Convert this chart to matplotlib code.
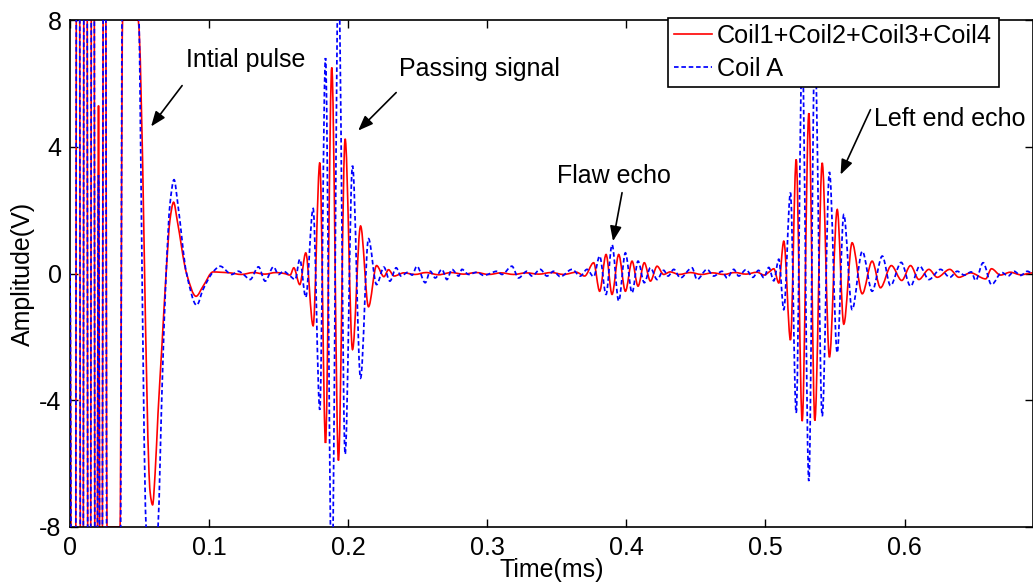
import numpy as np
import matplotlib
matplotlib.use("Agg")
import matplotlib.pyplot as plt
from matplotlib.path import Path
from matplotlib.patches import PathPatch
from matplotlib.lines import Line2D

plt.rcParams['font.family'] = ['Liberation Sans', 'DejaVu Sans']
plt.rcParams['axes.unicode_minus'] = False
plt.rcParams['lines.scale_dashes'] = False

# ---------------- data (time in ms, amplitude in V) ----------------
# Initial pulse (clipped excitation)
pulse_red_t = [0.0000, 0.0011, 0.0040, 0.0047, 0.0068, 0.0076, 0.0094, 0.0101, 0.0122, 0.0129,
               0.0147, 0.0155, 0.0173, 0.0180, 0.0194, 0.0205, 0.0216, 0.0230, 0.0241, 0.0255,
               0.0266, 0.0360, 0.0378, 0.0489, 0.0576, 0.0594, 0.0612, 0.0633, 0.0662, 0.0691,
               0.0719, 0.0745, 0.0770, 0.0838, 0.0906, 0.0957, 0.1029]
pulse_red_v = [0.0, -12, -12, 12, 12, -12, -12, 12, 12, -12,
               -12, 12, 12, -12, -12, 5.3, -12, -12, 12, 12,
               -8, -8, 8, 8, -6.9, -7.3, -6.3, -4.4, -2.2, 0.0,
               1.7, 2.25, 1.7, 0.0, -0.72, -0.40, 0.05]
pulse_blue_t = [0.0000, 0.0011, 0.0040, 0.0047, 0.0068, 0.0076, 0.0094, 0.0101, 0.0122, 0.0129,
                0.0147, 0.0155, 0.0173, 0.0180, 0.0194, 0.0205, 0.0216, 0.0230, 0.0241, 0.0255,
                0.0266, 0.0360, 0.0378, 0.0475, 0.0547, 0.0590, 0.0633, 0.0662, 0.0691, 0.0719,
                0.0748, 0.0775, 0.0838, 0.0911, 0.0957, 0.1029]
pulse_blue_v = [0.0, -12, -12, 12, 12, -12, -12, 12, 12, -12,
                -12, 12, 12, -12, -12, 3.1, -12, -12, 12, 12,
                -12, -12, 12, 12, -8, -10.5, -8, -3.6, 0.0, 2.2,
                2.96, 2.2, 0.0, -1.0, -0.5, 0.05]

# Passing signal
pass_t = [0.1652, 0.1695, 0.1748, 0.1796, 0.1837, 0.1882, 0.1930, 0.1978, 0.2031, 0.2089,
          0.2146, 0.2204, 0.2257]
pass_red = [-0.35, 0.65, -1.65, 3.5, -5.35, 6.5, -5.9, 4.25, -2.4, 1.5, -1.05, 0.25, -0.1]
pass_blue = [0.45, -0.75, 2.05, -4.3, 6.8, -10.0, 9.5, -5.7, 3.4, -3.3, 1.1, -0.35, 0.2]

# Flaw echo
flaw_t = [0.3765, 0.3808, 0.3854, 0.3897, 0.3945, 0.3993, 0.4041, 0.4084, 0.4129, 0.4173,
          0.4221, 0.4268]
flaw_red = [0.34, -0.56, 0.6, -0.66, 0.6, -0.56, 0.39, -0.4, 0.34, -0.24, 0.23, -0.03]
flaw_blue = [-0.1, 0.55, -0.66, 0.91, -0.87, 0.65, -0.61, 0.39, -0.29, 0.18, -0.19, 0.1]

# Left end echo
end_t = [0.5132, 0.5180, 0.5221, 0.5264, 0.5312, 0.5355, 0.5408, 0.5460, 0.5516, 0.5563,
         0.5623]
end_red = [1.02, -2.1, 3.6, -4.66, 5.06, -4.64, 3.49, -2.64, 2.02, -1.6, 0.97]
end_blue = [-1.14, 2.55, -4.4, 7.0, -6.55, 7.2, -4.5, 3.2, -2.5, 1.86, -1.14]

# Background noise / ring-down, Coil1+Coil2+Coil3+Coil4
noise_red_t = [0.1079, 0.1150, 0.1230, 0.1320, 0.1400, 0.1480, 0.1540, 0.1583, 0.1609,
               0.2290, 0.2330, 0.2400, 0.2480, 0.2560, 0.2650, 0.2740, 0.2830, 0.2920, 0.3010,
               0.3100, 0.3190, 0.3280, 0.3370, 0.3460, 0.3550, 0.3640, 0.3700,
               0.4315, 0.4380, 0.4460, 0.4540, 0.4620, 0.4700, 0.4780, 0.4860, 0.4940, 0.4990,
               0.5030, 0.5060, 0.5096,
               0.5696, 0.5767, 0.5827, 0.5905, 0.5980, 0.6043, 0.6103, 0.6175, 0.6235, 0.6325,
               0.6391, 0.6475, 0.6583, 0.6625, 0.6690, 0.6760, 0.6835, 0.6920]
noise_red_v = [0.04, 0.02, -0.03, 0.03, -0.02, 0.03, 0.0, -0.05, 0.18,
               0.12, -0.08, 0.02, -0.03, 0.03, -0.04, 0.03, -0.02, 0.03, -0.03,
               0.02, -0.03, 0.02, -0.02, 0.03, -0.03, 0.04, -0.08,
               0.05, -0.03, 0.03, -0.03, 0.02, -0.03, 0.03, -0.02, 0.04, -0.05,
               0.06, 0.15, -0.3,
               -0.64, 0.39, -0.45, 0.25, -0.22, 0.25, -0.19, 0.13, -0.12, 0.13,
               -0.12, 0.02, -0.17, 0.15, -0.05, 0.04, -0.04, 0.02]

# Background noise / ring-down, Coil A
noise_blue_t = [0.1079, 0.1163, 0.1211, 0.1247, 0.1295, 0.1355, 0.1403, 0.1463, 0.1499,
                0.1535, 0.1583, 0.1619,
                0.2300, 0.2345, 0.2380, 0.2430, 0.2460, 0.2494, 0.2554, 0.2590, 0.2626, 0.2674,
                0.2710, 0.2746, 0.2794, 0.2818, 0.2866, 0.2926, 0.2974, 0.3070, 0.3106, 0.3177,
                0.3225, 0.3285, 0.3321, 0.3381, 0.3429, 0.3477, 0.3525, 0.3609, 0.3669, 0.3717,
                0.4300, 0.4341, 0.4388, 0.4472, 0.4508, 0.4580, 0.4628, 0.4688, 0.4724, 0.4772,
                0.4808, 0.4860, 0.4910, 0.4950, 0.4988, 0.5024, 0.5060, 0.5096,
                0.5696, 0.5767, 0.5840, 0.5899, 0.5976, 0.6043, 0.6109, 0.6175, 0.6259, 0.6325,
                0.6379, 0.6430, 0.6480, 0.6511, 0.6565, 0.6625, 0.6700, 0.6745, 0.6787, 0.6835,
                0.6883, 0.6920]
noise_blue_v = [0.23, -0.03, 0.07, -0.03, -0.19, 0.21, -0.24, 0.21, -0.03,
                0.07, -0.08, -0.19,
                -0.24, 0.18, -0.08, 0.04, -0.05, 0.23, -0.29, 0.07, -0.14, 0.13,
                -0.19, 0.13, -0.08, 0.13, -0.03, 0.04, -0.06, 0.07, -0.03, 0.23,
                -0.14, 0.07, -0.08, 0.13, -0.08, 0.07, -0.1, 0.13, -0.08, 0.13,
                -0.08, 0.13, -0.14, 0.18, -0.19, 0.13, -0.08, 0.07, -0.14, 0.13,
                -0.08, 0.12, -0.12, 0.1, -0.13, 0.19, -0.23, 0.45,
                0.70, -0.56, 0.55, -0.38, 0.35, -0.40, 0.23, -0.19, 0.13, -0.12,
                0.07, -0.05, 0.05, -0.22, 0.34, -0.35, 0.03, -0.08, 0.07, -0.06,
                0.07, 0.0]

x_ticks = [0, 0.1, 0.2, 0.3, 0.4, 0.5, 0.6]
x_ticklabels = ['0', '0.1', '0.2', '0.3', '0.4', '0.5', '0.6']
y_ticks = [-8, -4, 0, 4, 8]
y_ticklabels = ['-8', '-4', '0', '4', '8']

series_labels = ['Coil1+Coil2+Coil3+Coil4', 'Coil A']

# (text, text position, arrow tail, arrow head)
annotations = [
    ('Intial pulse', (0.0835, 6.75), (0.0806, 5.93), (0.0583, 4.64)),
    ('Passing signal', (0.2367, 6.44), (0.2345, 5.71), (0.2072, 4.51)),
    ('Flaw echo', (0.3500, 3.07), (0.3969, 2.55), (0.3904, 1.02)),
    ('Left end echo', (0.5777, 4.86), (0.5755, 5.17), (0.5540, 3.12)),
]

# ---------------- assemble series ----------------
def assemble(parts):
    t = np.concatenate([np.asarray(p[0], float) for p in parts])
    v = np.concatenate([np.asarray(p[1], float) for p in parts])
    order = np.argsort(t, kind='stable')
    return t[order], v[order]

red_t, red_v = assemble([(pulse_red_t, pulse_red_v), (pass_t, pass_red), (flaw_t, flaw_red),
                         (end_t, end_red), (noise_red_t, noise_red_v)])
blue_t, blue_v = assemble([(pulse_blue_t, pulse_blue_v), (pass_t, pass_blue), (flaw_t, flaw_blue),
                           (end_t, end_blue), (noise_blue_t, noise_blue_v)])


def wave_path(t, v):
    """Smooth path through the read points: cubic Bezier segments with flat
    tangents at extremes and monotone (harmonic-mean) tangents elsewhere."""
    n = len(t)
    d = np.diff(v) / np.diff(t)
    m = np.zeros(n)
    for i in range(1, n - 1):
        if d[i - 1] * d[i] > 0:
            m[i] = 2.0 / (1.0 / d[i - 1] + 1.0 / d[i])
    verts = [(t[0], v[0])]
    codes = [Path.MOVETO]
    for i in range(1, n):
        dt = t[i] - t[i - 1]
        verts += [(t[i - 1] + dt / 3, v[i - 1] + m[i - 1] * dt / 3),
                  (t[i] - dt / 3, v[i] - m[i] * dt / 3),
                  (t[i], v[i])]
        codes += [Path.CURVE4] * 3
    return Path(verts, codes)


# ---------------- figure ----------------
FS = 18
fig = plt.figure(figsize=(10.33, 5.83), dpi=100)
ax = fig.add_axes([70 / 1033, 1 - 527 / 583, 962.5 / 1033, 507 / 583])

red_style = dict(color='#ff0000', lw=1.2)
blue_style = dict(color='#0000ff', lw=1.25, linestyle=(0, (3.3, 2.0)))

red_patch = PathPatch(wave_path(red_t, red_v), fill=False, edgecolor=red_style['color'],
                      lw=red_style['lw'], zorder=2)
blue_patch = PathPatch(wave_path(blue_t, blue_v), fill=False, edgecolor=blue_style['color'],
                       lw=blue_style['lw'], linestyle=blue_style['linestyle'], zorder=3)
blue_patch.set_capstyle('butt')
ax.add_patch(red_patch)
ax.add_patch(blue_patch)

ax.set_xlim(0, 0.692)
ax.set_ylim(-8, 8)
ax.set_xticks(x_ticks)
ax.set_xticklabels(x_ticklabels)
ax.set_yticks(y_ticks)
ax.set_yticklabels(y_ticklabels)
ax.tick_params(direction='in', length=6, width=1.0, top=True, right=True,
               labelsize=FS, pad=6)
ax.tick_params(axis='x', pad=6.5)
for s in ax.spines.values():
    s.set_linewidth(1.2)
ax.set_xlabel('Time(ms)', fontsize=FS, labelpad=-1.5)
ax.set_ylabel('Amplitude(V)', fontsize=FS, labelpad=3)

for text, tpos, tail, head in annotations:
    ax.text(tpos[0], tpos[1], text, fontsize=FS, ha='left', va='center', zorder=4)
    ax.annotate('', xy=head, xytext=tail,
                arrowprops=dict(arrowstyle='-|>,head_length=0.9,head_width=0.35',
                                color='k', lw=1.2, shrinkA=0, shrinkB=0),
                zorder=4)

handles = [Line2D([], [], **red_style), Line2D([], [], dash_capstyle='butt', **blue_style)]
leg = ax.legend(handles, series_labels, loc='upper right', bbox_to_anchor=(0.9647, 1.004),
                borderaxespad=0, frameon=True, fancybox=False, framealpha=1,
                edgecolor='k', handlelength=1.5, handletextpad=0.2,
                labelspacing=0.34, borderpad=0.25, prop={'size': 18.2})
leg.get_frame().set_linewidth(1.2)
leg.set_zorder(10)

fig.savefig('out.png', dpi=100)
